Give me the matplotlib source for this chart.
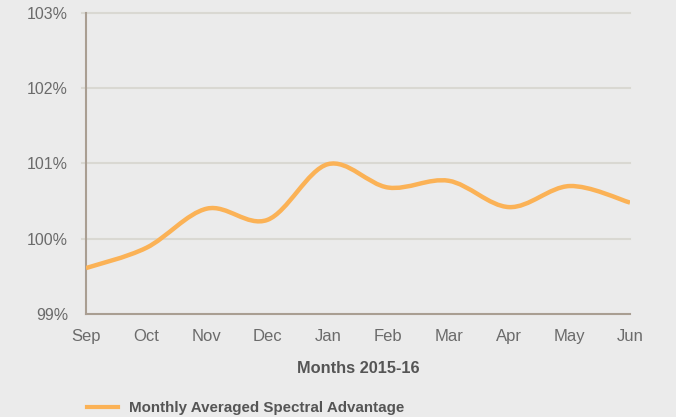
import numpy as np
import matplotlib
matplotlib.use("Agg")
import matplotlib.pyplot as plt
from matplotlib.path import Path
from matplotlib.patches import PathPatch
from matplotlib.lines import Line2D

months = ["Sep", "Oct", "Nov", "Dec", "Jan", "Feb", "Mar", "Apr", "May", "Jun"]
advantage = [99.61, 99.88, 100.40, 100.25, 100.99, 100.68, 100.77, 100.42, 100.70, 100.48]
yticks = [99, 100, 101, 102, 103]

bg = "#ebebeb"
orange = "#fbb256"
spine = "#a99e92"
grid = "#d9d8d2"
txt = "#6b6b6b"

plt.rcParams["font.family"] = ["Liberation Sans", "DejaVu Sans"]

fig = plt.figure(figsize=(6.76, 4.17), dpi=100, facecolor=bg)
ax = fig.add_axes([0.1272, 0.247, 0.8048, 0.722], facecolor=bg)

x = np.arange(len(months))
y = np.array(advantage)

# smooth spline path through the points (bezier, catmull-rom style)
verts = [(x[0], y[0])]
codes = [Path.MOVETO]
n = len(x)
for i in range(n - 1):
    p0 = (x[max(i - 1, 0)], y[max(i - 1, 0)])
    p1 = (x[i], y[i])
    p2 = (x[i + 1], y[i + 1])
    p3 = (x[min(i + 2, n - 1)], y[min(i + 2, n - 1)])
    c1 = (p1[0] + (p2[0] - p0[0]) / 6, p1[1] + (p2[1] - p0[1]) / 6)
    c2 = (p2[0] - (p3[0] - p1[0]) / 6, p2[1] - (p3[1] - p1[1]) / 6)
    verts += [c1, c2, p2]
    codes += [Path.CURVE4] * 3
ax.add_patch(PathPatch(Path(verts, codes), facecolor="none", edgecolor=orange,
                       lw=3.2, capstyle="butt", zorder=3))

ax.set_xlim(0, n - 1)
ax.set_ylim(99, 103)
ax.set_xticks(x)
ax.set_xticklabels(months)
ax.set_yticks(yticks)
ax.set_yticklabels([f"{v}%" for v in yticks])
for v in yticks[1:]:
    ax.axhline(v, color=grid, lw=1.5, zorder=1, clip_on=False, xmin=-0.008)

for s in ["top", "right"]:
    ax.spines[s].set_visible(False)
for s in ["left", "bottom"]:
    ax.spines[s].set_color(spine)
    ax.spines[s].set_linewidth(1.5)
ax.tick_params(axis="both", length=0, colors=txt)
ax.tick_params(axis="x", pad=11, labelsize=12)
ax.tick_params(axis="y", pad=13, labelsize=11.5)

ax.set_xlabel("Months 2015-16", fontsize=11.8, fontweight="bold", color="#555555", labelpad=12)

handle = Line2D([], [], color=orange, lw=3)
fig.legend([handle], ["Monthly Averaged Spectral Advantage"], loc="lower left",
           bbox_to_anchor=(0.108, -0.028), frameon=False, handlelength=2.1,
           handletextpad=0.7, prop={"size": 10.9, "weight": "bold"}, labelcolor="#555555")

fig.savefig("out.png", dpi=100, facecolor=bg)
